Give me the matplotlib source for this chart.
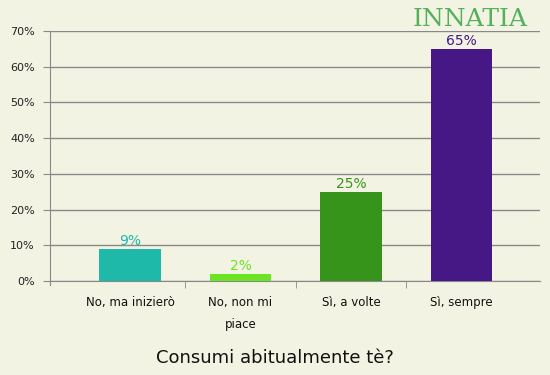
import numpy as np
import matplotlib.pyplot as plt

categories = ['No, ma inizierò', 'No, non mi\npiace', 'Sì, a volte', 'Sì, sempre']
values = [8.9, 1.9, 25, 65]
labels = ['9%', '2%', '25%', '65%']
colors = ['#1eb9a8', '#6be424', '#37941a', '#461886']

bg = '#f3f3e3'
fig = plt.figure(figsize=(5.5, 3.75), dpi=100, facecolor=bg)
ax = fig.add_axes([50 / 550, 1 - 281 / 375, 490 / 550, 250 / 375])
ax.set_facecolor(bg)

x = np.arange(len(categories))
ax.bar(x, values, width=0.56, color=colors, zorder=3)
for xi, v, lab, c in zip(x, values, labels, colors):
    ax.text(xi, v + 0.3, lab, ha='center', va='bottom', fontsize=10, color=c, zorder=4)

ax.set_xlim(-0.724, 3.71)
ax.set_ylim(0, 70)
ax.set_yticks(np.arange(0, 71, 10))
ax.set_yticklabels([f'{t}%' for t in range(0, 71, 10)], fontsize=8, color='#222222')
ax.yaxis.grid(True, color='#888888', linewidth=1, zorder=1)

ax.set_xticks(x)
ax.set_xticklabels(categories, fontsize=8.5, color='#111111', linespacing=1.85, va='top')
ax.set_xticks([0.5, 1.5, 2.5], minor=True)
ax.tick_params(axis='x', which='major', length=0, pad=11)
ax.tick_params(axis='x', which='minor', length=5, color='#888888')
ax.tick_params(axis='y', length=5, color='#888888', pad=6)

for s in ['top', 'right']:
    ax.spines[s].set_visible(False)
ax.spines['left'].set_color('#888888')
ax.spines['bottom'].set_color('#888888')
ax.spines['left'].set_bounds(-1, 70)

fig.text(0.5, 1 - 358 / 375, 'Consumi abitualmente tè?', ha='center', va='center',
         fontsize=13, color='#111111')
fig.text(470 / 550, 1 - 19 / 375, 'INNATIA', ha='center', va='center',
         fontsize=18, family='DejaVu Serif', color='#55b05a')

fig.savefig('out.png', dpi=100, facecolor=bg)
